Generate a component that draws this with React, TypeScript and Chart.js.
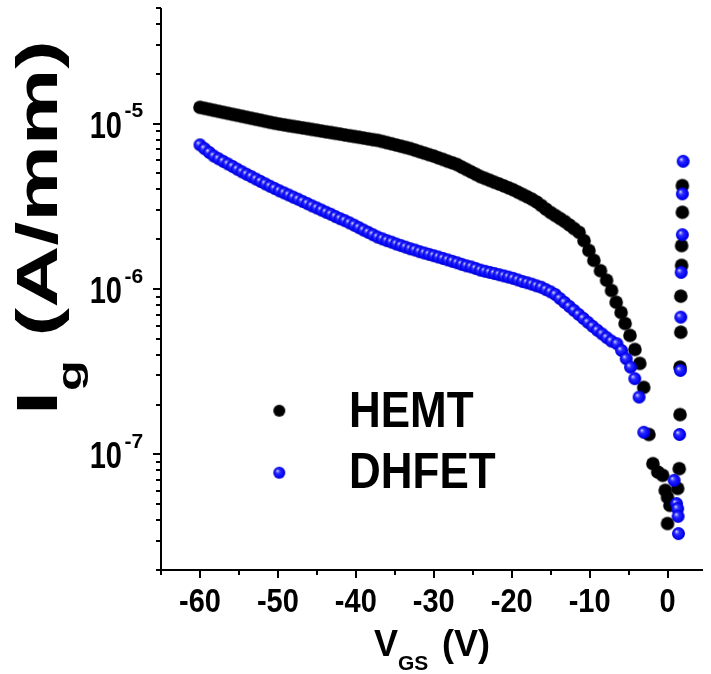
import React, { useEffect, useRef } from "react";
import { Chart, registerables } from "chart.js";

Chart.register(...registerables);

// ---------------- data ----------------
const hemtV = [
  -60, -59.4, -58.8, -58.2, -57.6, -57, -56.4, -55.8, -55.2, -54.6, -54, -53.4, -52.8, -52.2, -51.6, -51, -50.4,
  -49.8, -49.2, -48.6, -48, -47.4, -46.8, -46.2, -45.6, -45, -44.4, -43.8, -43.2, -42.6, -42, -41.4, -40.8, -40.2,
  -39.6, -39, -38.4, -37.8, -37.2, -36.6, -36, -35.4, -34.8, -34.2, -33.6, -33, -32.4, -31.8, -31.2, -30.6, -30,
  -29.4, -28.8, -28.2, -27.6, -27, -26.4, -25.8, -25.2, -24.6, -24, -23.4, -22.8, -22.2, -21.6, -21, -20.4,
  -19.8, -19.2, -18.6, -18, -17.4, -16.8, -16.2, -15.6, -15, -14.4, -13.8, -13.2, -12.6, -12,
  -11.35, -10.72, -10.09, -9.46, -8.61, -7.82, -7.19, -6.59, -5.96, -5.45, -4.82, -4.19, -3.56, -3.06, -2.39,
  -1.88, -1.25, -0.62, -0.3, 0, 0.3, 0,
  1.9, 1.9, 1.8, 1.8, 1.7, 1.7, 1.6, 1.6, 1.5, 1.3,
];
const hemtI = [
  12.54e-6, 12.37e-6, 12.2e-6, 12.03e-6, 11.86e-6, 11.7e-6, 11.54e-6, 11.38e-6, 11.23e-6, 11.07e-6, 10.92e-6,
  10.77e-6, 10.62e-6, 10.48e-6, 10.33e-6, 10.19e-6, 10.05e-6,
  9.93e-6, 9.83e-6, 9.72e-6, 9.62e-6, 9.52e-6, 9.42e-6, 9.32e-6, 9.22e-6, 9.12e-6, 9.02e-6, 8.92e-6, 8.83e-6,
  8.73e-6, 8.64e-6, 8.54e-6, 8.45e-6, 8.36e-6,
  8.27e-6, 8.18e-6, 8.09e-6, 8.0e-6, 7.92e-6, 7.8e-6, 7.67e-6, 7.55e-6, 7.42e-6, 7.3e-6, 7.18e-6, 7.06e-6,
  6.91e-6, 6.77e-6, 6.63e-6, 6.49e-6, 6.36e-6,
  6.21e-6, 6.07e-6, 5.92e-6, 5.79e-6, 5.65e-6, 5.46e-6, 5.28e-6, 5.11e-6, 4.94e-6, 4.78e-6, 4.66e-6, 4.54e-6,
  4.42e-6, 4.31e-6, 4.2e-6, 4.09e-6,
  3.98e-6, 3.85e-6, 3.73e-6, 3.61e-6, 3.49e-6, 3.36e-6, 3.2e-6, 3.04e-6, 2.9e-6, 2.78e-6, 2.67e-6, 2.56e-6,
  2.44e-6, 2.32e-6,
  2.2e-6, 1.96e-6, 1.71e-6, 1.49e-6, 1.29e-6, 1.13e-6, 9.79e-7, 8.32e-7, 7.21e-7, 6.19e-7, 5.24e-7, 4.31e-7,
  3.55e-7, 2.54e-7, 1.32e-7,
  8.79e-8, 7.82e-8, 7.47e-8, 6.06e-8, 5.5e-8, 4.92e-8, 3.82e-8,
  4.22e-6, 2.91e-6, 1.83e-6, 1.39e-6, 9.05e-7, 5.48e-7, 3.37e-7, 1.74e-7, 8.2e-8, 6.23e-8,
];

const dhfetV = [
  -60, -59.4, -58.8, -58.2, -57.6, -57, -56.4, -55.8, -55.2, -54.6, -54, -53.4, -52.8, -52.2, -51.6, -51, -50.4,
  -49.8, -49.2, -48.6, -48, -47.4, -46.8, -46.2, -45.6, -45, -44.4, -43.8, -43.2, -42.6, -42, -41.4, -40.8, -40.2,
  -39.6, -39, -38.4, -37.8, -37.2, -36.6, -36, -35.4, -34.8, -34.2, -33.6, -33, -32.4, -31.8, -31.2, -30.6, -30,
  -29.4, -28.8, -28.2, -27.6, -27, -26.4, -25.8, -25.2, -24.6, -24, -23.4, -22.8, -22.2, -21.6, -21, -20.4,
  -19.8, -19.2, -18.6, -18, -17.4, -16.8, -16.2, -15.6, -15, -14.4, -13.8, -13.2, -12.6, -12,
  -11.4, -10.8, -10.2, -9.6, -9, -8.4, -7.8, -7.2,
  -6.5, -5.9, -5.3, -4.75, -4.2, -3.65, -3.05,
  0.85, 1.15, 1.3, 1.35, 1.4,
  2.0, 1.9, 1.9, 1.75, 1.7, 1.65, 1.55,
];
const dhfetI = [
  7.44e-6, 7.05e-6, 6.69e-6, 6.36e-6, 6.13e-6, 5.91e-6, 5.7e-6, 5.5e-6, 5.3e-6, 5.11e-6, 4.94e-6, 4.78e-6,
  4.62e-6, 4.47e-6, 4.32e-6, 4.18e-6, 4.05e-6,
  3.92e-6, 3.81e-6, 3.7e-6, 3.59e-6, 3.49e-6, 3.38e-6, 3.28e-6, 3.18e-6, 3.09e-6, 3.0e-6, 2.91e-6, 2.83e-6,
  2.74e-6, 2.66e-6, 2.59e-6, 2.51e-6, 2.43e-6,
  2.35e-6, 2.27e-6, 2.2e-6, 2.13e-6, 2.06e-6, 2.01e-6, 1.96e-6, 1.92e-6, 1.87e-6, 1.83e-6, 1.79e-6, 1.75e-6,
  1.72e-6, 1.68e-6, 1.65e-6, 1.62e-6, 1.59e-6,
  1.56e-6, 1.53e-6, 1.5e-6, 1.47e-6, 1.44e-6, 1.41e-6, 1.38e-6, 1.36e-6, 1.33e-6, 1.3e-6, 1.28e-6, 1.26e-6,
  1.24e-6, 1.22e-6, 1.2e-6, 1.18e-6,
  1.16e-6, 1.135e-6, 1.11e-6, 1.09e-6, 1.07e-6, 1.045e-6, 1.025e-6, 9.92e-7, 9.61e-7, 9.26e-7, 8.76e-7,
  8.29e-7, 7.85e-7, 7.42e-7,
  7.02e-7, 6.64e-7, 6.28e-7, 5.94e-7, 5.63e-7, 5.35e-7, 5.08e-7, 4.84e-7,
  4.67e-7, 4.25e-7, 3.79e-7, 3.37e-7, 2.87e-7, 2.22e-7, 1.36e-7,
  6.97e-8, 5.04e-8, 4.7e-8, 4.22e-8, 3.32e-8,
  5.92e-6, 3.76e-6, 2.13e-6, 1.26e-6, 6.76e-7, 3.22e-7, 1.32e-7,
];

const seriesNames = ["HEMT", "DHFET"];
const xMajorTicks = [-60, -50, -40, -30, -20, -10, 0];
const xMinorTicks = [-65, -55, -45, -35, -25, -15, -5];
const xTickLabels = ["-60", "-50", "-40", "-30", "-20", "-10", "0"];
const yMajorTicks = [1e-7, 1e-6, 1e-5];
const yTickExponents = ["-7", "-6", "-5"];
const yMinorTicks = [
  2e-8, 3e-8, 4e-8, 5e-8, 6e-8, 7e-8, 8e-8, 9e-8,
  2e-7, 3e-7, 4e-7, 5e-7, 6e-7, 7e-7, 8e-7, 9e-7,
  2e-6, 3e-6, 4e-6, 5e-6, 6e-6, 7e-6, 8e-6, 9e-6,
  2e-5, 3e-5, 4e-5, 5e-5,
];

const FONT = '"Liberation Sans", Arial, Helvetica, sans-serif';

function makeBall(kind: "black" | "blue", r: number): HTMLCanvasElement {
  const size = Math.ceil(r * 2) + 2;
  const c = document.createElement("canvas");
  c.width = size;
  c.height = size;
  const ctx = c.getContext("2d")!;
  const cx = size / 2;
  const cy = size / 2;
  if (kind === "blue") {
    const g = ctx.createRadialGradient(cx - r * 0.35, cy - r * 0.35, 0, cx, cy, r);
    g.addColorStop(0, "#f4f4ff");
    g.addColorStop(0.16, "#8c8cff");
    g.addColorStop(0.38, "#2a2aff");
    g.addColorStop(0.85, "#0000f2");
    g.addColorStop(1, "#0000c0");
    ctx.fillStyle = g;
  } else {
    ctx.fillStyle = "#000000";
  }
  ctx.beginPath();
  ctx.arc(cx, cy, r, 0, Math.PI * 2);
  ctx.fill();
  return c;
}

function stretchText(
  ctx: CanvasRenderingContext2D,
  text: string,
  x: number,
  y: number,
  size: number,
  sy: number,
  align: CanvasTextAlign
) {
  ctx.save();
  ctx.font = `bold ${size}px ${FONT}`;
  ctx.textAlign = align;
  ctx.textBaseline = "alphabetic";
  ctx.translate(x, y);
  ctx.scale(1, sy);
  ctx.fillText(text, 0, 0);
  ctx.restore();
}

export default function App() {
  const ref = useRef<HTMLCanvasElement>(null);

  useEffect(() => {
    document.body.style.margin = "0";
    const blackBall = makeBall("black", 6.8);
    const blueBall = makeBall("blue", 6.5);
    const blackLegend = makeBall("black", 6.0);
    const blueLegend = makeBall("blue", 6.0);

    const decorPlugin = {
      id: "decor",
      beforeDatasetsDraw(chart: any) {
        const { ctx, chartArea, scales } = chart;
        const { left, right, top, bottom } = chartArea;
        const x = scales.x;
        const y = scales.y;
        ctx.save();
        ctx.strokeStyle = "#000";
        ctx.lineWidth = 2;
        ctx.beginPath();
        ctx.moveTo(left, top);
        ctx.lineTo(left, bottom + 1);
        ctx.moveTo(left - 1, bottom);
        ctx.lineTo(right, bottom);
        ctx.stroke();
        ctx.beginPath();
        xMajorTicks.forEach((v) => {
          const px = Math.round(x.getPixelForValue(v));
          ctx.moveTo(px, bottom);
          ctx.lineTo(px, bottom + 8);
        });
        xMinorTicks.forEach((v) => {
          const px = Math.round(x.getPixelForValue(v));
          ctx.moveTo(px, bottom);
          ctx.lineTo(px, bottom + 5);
        });
        yMajorTicks.forEach((v) => {
          const py = Math.round(y.getPixelForValue(v));
          ctx.moveTo(left, py);
          ctx.lineTo(left - 8, py);
        });
        yMinorTicks.forEach((v) => {
          const py = Math.round(y.getPixelForValue(v));
          ctx.moveTo(left, py);
          ctx.lineTo(left - 5, py);
        });
        ctx.stroke();
        ctx.restore();
      },
      afterDraw(chart: any) {
        const { ctx, scales } = chart;
        const x = scales.x;
        const y = scales.y;
        ctx.save();
        ctx.fillStyle = "#000";
        xMajorTicks.forEach((v, i) => {
          stretchText(ctx, xTickLabels[i], x.getPixelForValue(v), 611.5, 29, 1.12, "center");
        });
        yMajorTicks.forEach((v, i) => {
          const py = y.getPixelForValue(v);
          stretchText(ctx, "10", 122, py + 14, 29, 1.25, "right");
          stretchText(ctx, yTickExponents[i], 124.5, py - 6.5, 21, 1.0, "left");
        });
        // x axis title: V_GS (V)
        ctx.font = `bold 36px ${FONT}`;
        const vw = ctx.measureText("V").width;
        stretchText(ctx, "V", 374, 656, 36, 1.0, "left");
        stretchText(ctx, "GS", 374 + vw, 670, 21, 1.0, "left");
        stretchText(ctx, "(V)", 442, 656, 36, 1.0, "left");

        // y axis title: I_g (A/mm), rotated
        ctx.save();
        ctx.font = `bold 58px ${FONT}`;
        const wI = ctx.measureText("I").width;
        const wRest = ctx.measureText(" (A/mm)").width;
        ctx.font = `bold 34px ${FONT}`;
        const wg = ctx.measureText("g").width;
        const total = wI + wg + wRest;
        const sAlong = 375 / total;
        ctx.translate(57, 415);
        ctx.rotate(-Math.PI / 2);
        ctx.scale(sAlong, 1);
        ctx.textBaseline = "alphabetic";
        ctx.textAlign = "left";
        ctx.font = `bold 58px ${FONT}`;
        ctx.fillText("I", 0, 0);
        ctx.font = `bold 34px ${FONT}`;
        ctx.fillText("g", wI, 24);
        ctx.font = `bold 58px ${FONT}`;
        ctx.fillText(" (A/mm)", wI + wg, 0);
        ctx.restore();

        // legend
        const balls = [blackLegend, blueLegend];
        const legendY = [410.7, 472.7];
        const textY = [426.7, 488.3];
        seriesNames.forEach((name, i) => {
          const b = balls[i];
          ctx.drawImage(b, 279.3 - b.width / 2, legendY[i] - b.height / 2);
          stretchText(ctx, name, 349, textY[i], 44, 1.12, "left");
        });
        ctx.restore();
      },
    };

    const chart = new Chart(ref.current!, {
      type: "scatter",
      data: {
        datasets: [
          {
            label: seriesNames[0],
            data: hemtV.map((v, i) => ({ x: v, y: hemtI[i] })),
            pointStyle: blackBall as any,
            pointRadius: 7,
            showLine: false,
            order: 1,
          },
          {
            label: seriesNames[1],
            data: dhfetV.map((v, i) => ({ x: v, y: dhfetI[i] })),
            pointStyle: blueBall as any,
            pointRadius: 7,
            showLine: false,
            order: 0,
          },
        ],
      },
      options: {
        responsive: false,
        animation: false,
        devicePixelRatio: 1,
        events: [],
        layout: { padding: { left: 161, top: 7, right: 0, bottom: 104 } },
        scales: {
          x: { type: "linear", min: -65, max: 4.55, display: false },
          y: { type: "logarithmic", min: 2e-8, max: 5e-5, display: false },
        },
        plugins: {
          legend: { display: false },
          tooltip: { enabled: false },
        },
      },
      plugins: [decorPlugin],
    });
    return () => chart.destroy();
  }, []);

  return (
    <div style={{ position: "fixed", left: 0, top: 0, width: 711, height: 674, background: "#fff" }}>
      <canvas ref={ref} width={711} height={674} style={{ display: "block", width: 711, height: 674 }} />
    </div>
  );
}
